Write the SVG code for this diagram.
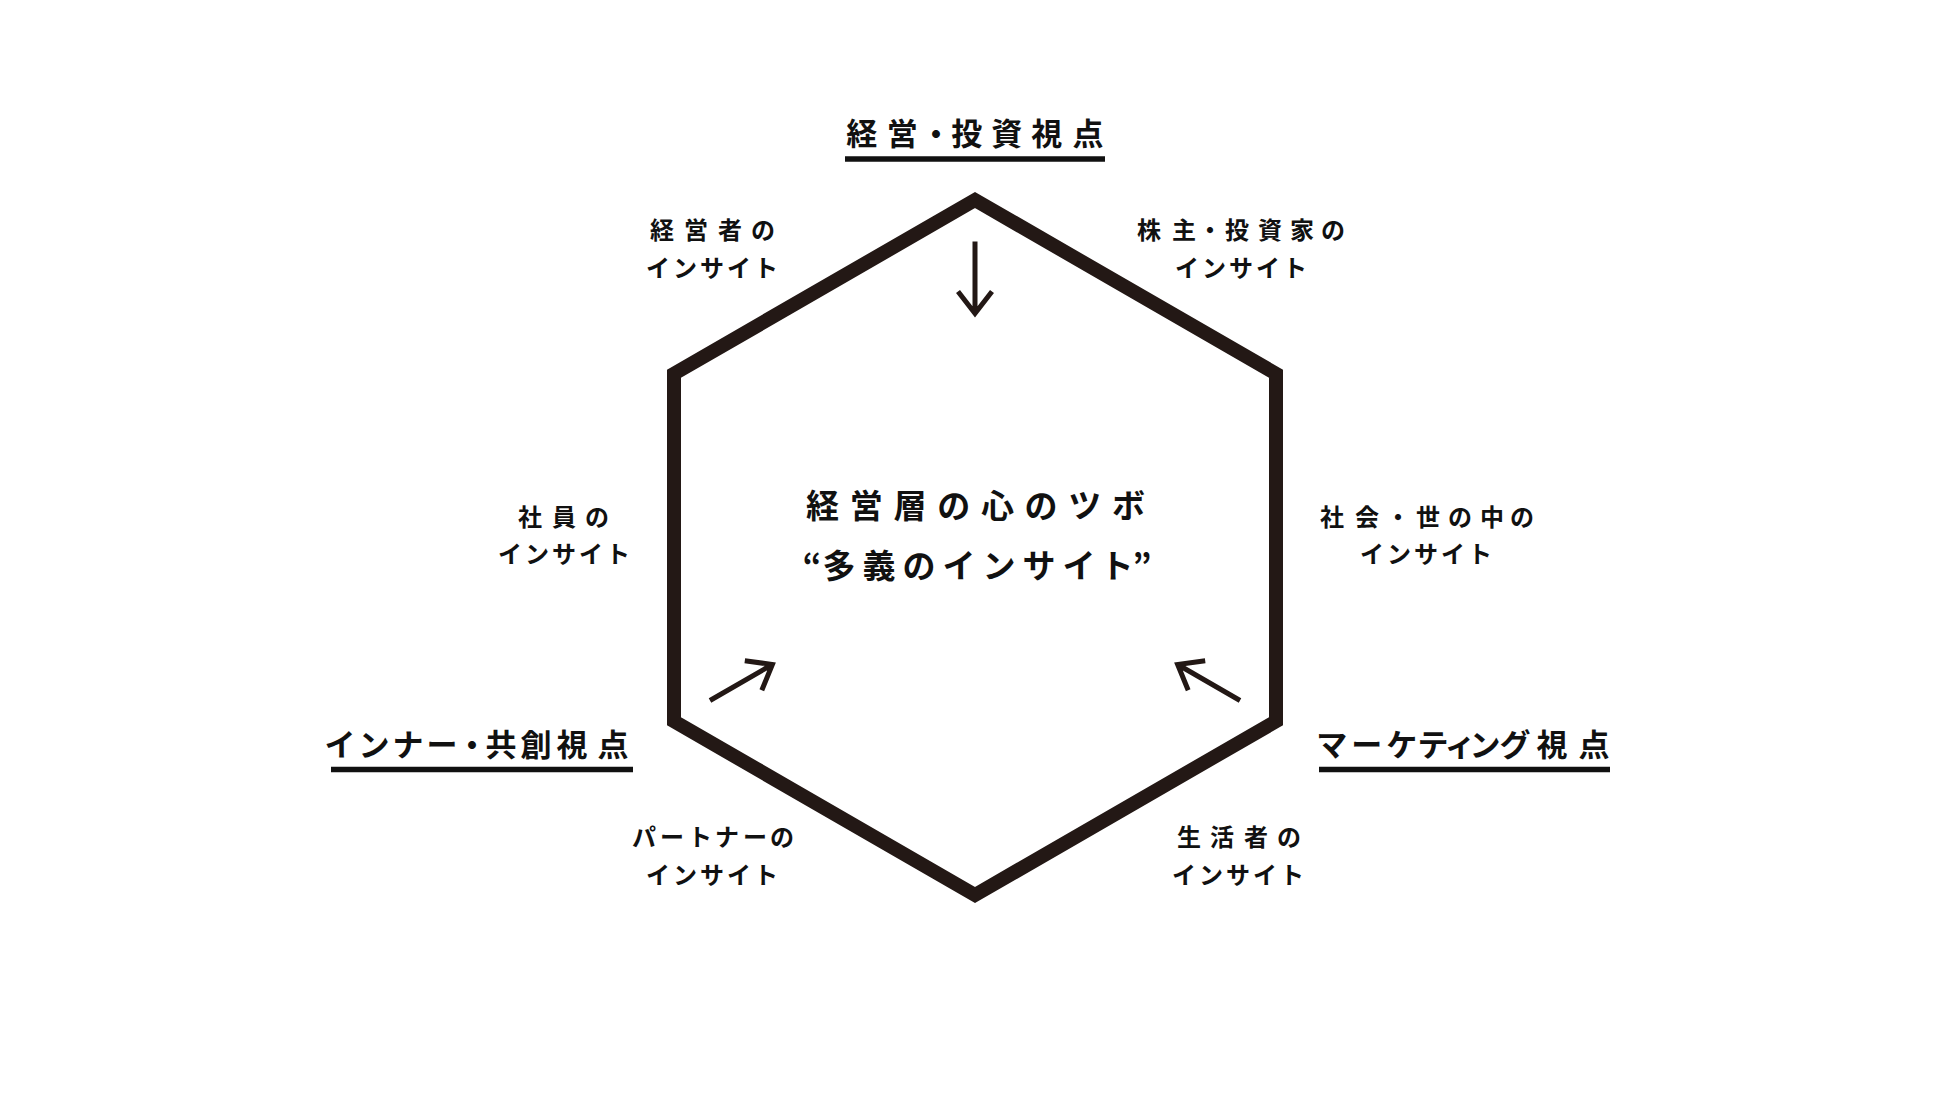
<svg xmlns="http://www.w3.org/2000/svg" width="1950" height="1097" viewBox="0 0 1950 1097">
<style>
text{font-family:"Noto Sans CJK JP","Noto Sans CJK SC",sans-serif;font-weight:700;fill:#111;text-anchor:middle}
.h{font-size:31px}
.t{font-size:33px}
.s{font-size:24px}
.hex{fill:none;stroke:#231815;stroke-width:14;stroke-linejoin:miter}
.ul{stroke:#111;stroke-width:5.5}
.arr{fill:none;stroke:#231815;stroke-width:5;stroke-linejoin:miter;stroke-miterlimit:10}
</style>
<defs>
<path id="arrow" class="arr" d="M0,-306 L0,-235 M-17,-256 L0,-234 L17,-256"/>
</defs>
<rect width="1950" height="1097" fill="#fff"/>
<g id="hexagon">
<polygon class="hex" points="975,200 1276,373.75 1276,721.25 975,895 674,721.25 674,373.75"/>
</g>
<g id="connectors">
<use href="#arrow" transform="translate(975,547.5)"/>
<use href="#arrow" transform="translate(975,547.5) rotate(-120)"/>
<use href="#arrow" transform="translate(975,547.5) rotate(120)"/>
</g>
<g id="center-title">
<text class="t" x="822.6 866.3 910 953.7 997.4 1041.1 1084.8 1128.5" y="518">経営層の心のツボ</text>
<text class="t" x="812 839 879 919 959 999 1039 1079 1117 1142" y="578">“多義のインサイト”</text>
</g>
<g id="heading-top">
<text class="h" x="861.7 902.2 936 966.7 1006.7 1046.7 1088" y="145">経営・投資視点</text>
<line class="ul" x1="845" y1="159" x2="1105" y2="159"/>
</g>
<g id="heading-left">
<text class="h" x="340 374 408 442 472 501 536 572 613" y="756">インナー・共創視点</text>
<line class="ul" x1="331" y1="769.5" x2="633" y2="769.5"/>
</g>
<g id="heading-right">
<text class="h" x="1331.7 1366.7 1401.7 1433 1460 1485 1515 1552 1594" y="756">マーケティング視点</text>
<line class="ul" x1="1319" y1="769.5" x2="1610" y2="769.5"/>
</g>
<g id="label-keieisha">
<text class="s" x="662 696 730 763" y="239">経営者の</text>
<text class="s" x="658 685 712 739 766" y="277">インサイト</text>
</g>
<g id="label-kabunushi">
<text class="s" x="1149 1184 1210 1237 1270 1302 1333" y="239">株主・投資家の</text>
<text class="s" x="1187 1214 1241 1268 1295" y="277">インサイト</text>
</g>
<g id="label-shain">
<text class="s" x="530 564 597" y="526">社員の</text>
<text class="s" x="510 537 564 591 618" y="563">インサイト</text>
</g>
<g id="label-shakai">
<text class="s" x="1332 1367 1398 1428 1460 1492 1522" y="526">社会・世の中の</text>
<text class="s" x="1372 1399 1426 1453 1480" y="563">インサイト</text>
</g>
<g id="label-partner">
<text class="s" x="644 672 700 727 755 782" y="846">パートナーの</text>
<text class="s" x="658 685 712 739 766" y="884">インサイト</text>
</g>
<g id="label-seikatsusha">
<text class="s" x="1189 1222 1256 1289" y="846">生活者の</text>
<text class="s" x="1184 1211 1238 1265 1292" y="884">インサイト</text>
</g>
</svg>
